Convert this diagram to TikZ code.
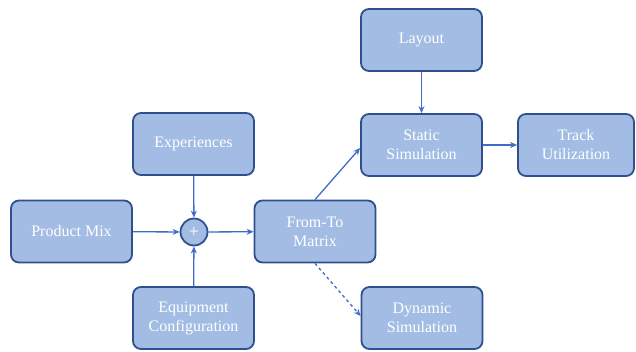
\documentclass[tikz,border=0pt]{standalone}
\usepackage{fontspec}
\setmainfont{Liberation Serif}
\usetikzlibrary{arrows.meta}
\definecolor{boxfill}{HTML}{A3BCE4}
\definecolor{boxdraw}{HTML}{2F4F8F}
\definecolor{arrowc}{HTML}{3F6CC4}
\tikzset{
  blk/.style={draw=boxdraw, line width=1.8pt, fill=boxfill, rounded corners=8pt,
    minimum width=121pt, minimum height=62pt, text=white, align=center,
    font=\fontsize{16}{19}\selectfont, inner sep=2pt},
  conn/.style={draw=arrowc, line width=1.3pt, -{Stealth[length=7pt,width=6pt]}},
}
\begin{document}
\begin{tikzpicture}[x=1pt,y=-1pt]
\useasboundingbox (0,0) rectangle (636,351);
\node[blk] (pm) at (71.5,231.5) {Product Mix};
\node[blk] (ex) at (193.5,144) {Experiences};
\node[blk] (eq) at (193.5,318) {Equipment\\Configuration};
\node[draw=boxdraw, line width=1.8pt, fill=boxfill, circle, minimum size=27pt, inner sep=0pt,
  text=white, font=\fontsize{18}{18}\selectfont] (pl) at (194,232) {+};
\node[blk] (ft) at (315,231.5) {From-To\\Matrix};
\node[blk] (ly) at (421.5,40) {Layout};
\node[blk] (st) at (421.5,145) {Static\\Simulation};
\node[blk, minimum width=116pt] (tu) at (576,145) {Track\\Utilization};
\node[blk] (dy) at (422,318) {Dynamic\\Simulation};
\draw[conn] (pm) -- (pl);
\draw[conn] (ex) -- (pl);
\draw[conn] (eq) -- (pl);
\draw[conn] (pl) -- (ft);
\draw[conn] (ly) -- (st);
\draw[conn] (st) -- (tu);
\draw[conn] (ft.north) -- (st.west |- 0,148);
\draw[conn, dashed] (ft.south) -- (dy.west |- 0,316);
\end{tikzpicture}
\end{document}
